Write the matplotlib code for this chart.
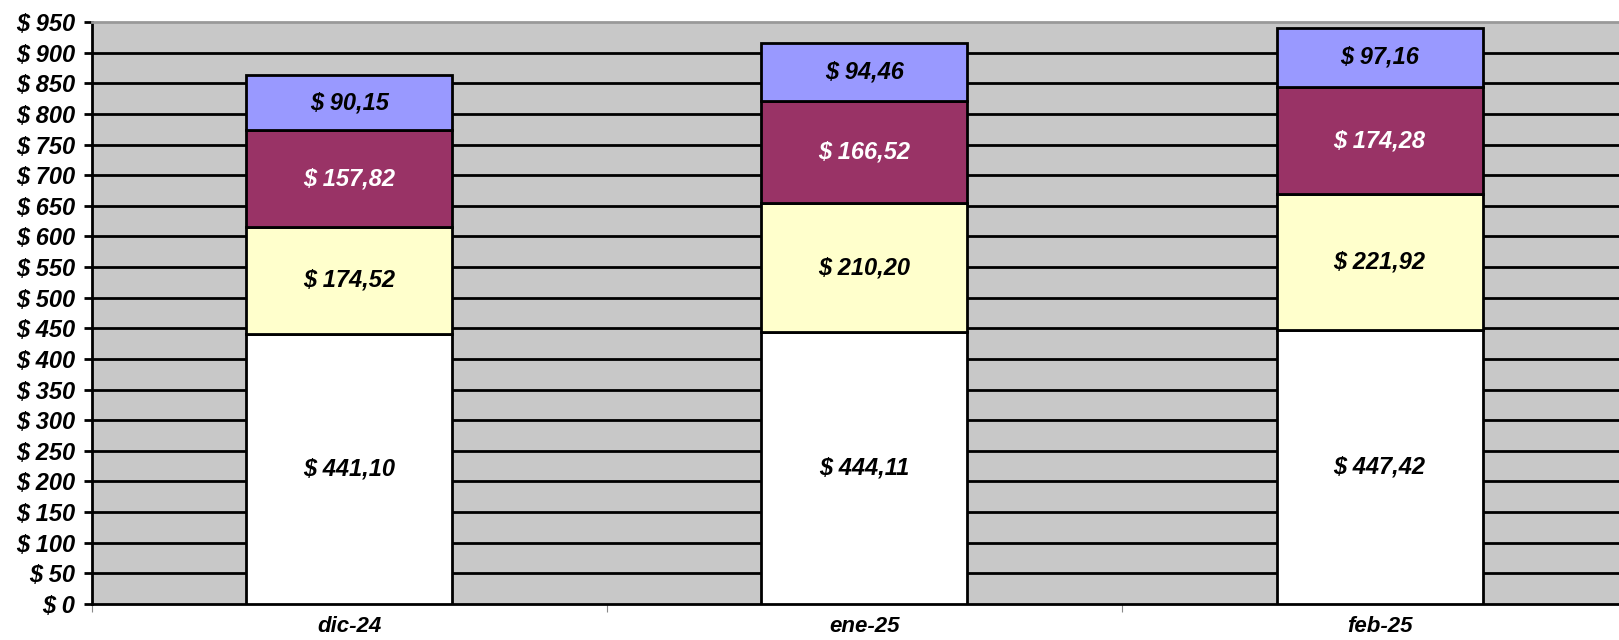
import numpy as np
import matplotlib
matplotlib.use("Agg")
from matplotlib import pyplot as plt
from matplotlib.ticker import FixedLocator

months = ["dic-24", "ene-25", "feb-25"]
base = [441.10, 444.11, 447.42]
second = [174.52, 210.20, 221.92]
third = [157.82, 166.52, 174.28]
top = [90.15, 94.46, 97.16]

series = [base, second, third, top]
colors = ["#FFFFFF", "#FFFFCC", "#993366", "#9999FF"]
text_colors = ["black", "black", "white", "black"]

plt.rcParams['font.family'] = ['Liberation Sans', 'DejaVu Sans']

fig = plt.figure(figsize=(16.19, 6.4), dpi=100)
ax = fig.add_axes([0.0568, 0.0563, 0.9432, 0.9093])
ax.set_facecolor("#C8C8C8")

x = np.arange(len(months))
bottom = np.zeros(len(months))
for vals, col, tcol in zip(series, colors, text_colors):
    vals = np.array(vals)
    ax.bar(x, vals, width=0.4, bottom=bottom, color=col, edgecolor="black",
           linewidth=2, zorder=3)
    for xi, b, v in zip(x, bottom, vals):
        lbl = "$ " + f"{v:.2f}".replace(".", ",")
        ax.text(xi, b + v / 2, lbl, ha="center", va="center", fontsize=17,
                fontweight="bold", fontstyle="italic", color=tcol, zorder=4)
    bottom += vals

ax.set_ylim(0, 950)
ax.set_xlim(-0.5, 2.465)
ax.set_yticks(np.arange(0, 951, 50))
ax.set_yticklabels([f"$ {v}" for v in range(0, 951, 50)], fontsize=17,
                   fontweight="bold", fontstyle="italic")
for v in range(50, 901, 50):
    ax.axhline(v, color="black", linewidth=2, zorder=1)

ax.xaxis.set_major_locator(FixedLocator([-0.5, 0.5, 1.5, 2.5]))
ax.xaxis.set_minor_locator(FixedLocator(x))
ax.set_xticklabels([])
ax.set_xticklabels(months, minor=True, fontsize=16, fontweight="bold",
                   fontstyle="italic")
ax.tick_params(axis="x", which="minor", length=0, pad=9)
ax.tick_params(axis="x", which="major", length=6, color="#888888", direction="out")
ax.tick_params(axis="y", length=6, width=2, direction="out", pad=6)

ax.spines["top"].set_color("#999999")
ax.spines["top"].set_linewidth(2)
ax.spines["right"].set_visible(False)
ax.spines["left"].set_linewidth(2)
ax.spines["bottom"].set_linewidth(2)

fig.savefig("out.png", dpi=100)
